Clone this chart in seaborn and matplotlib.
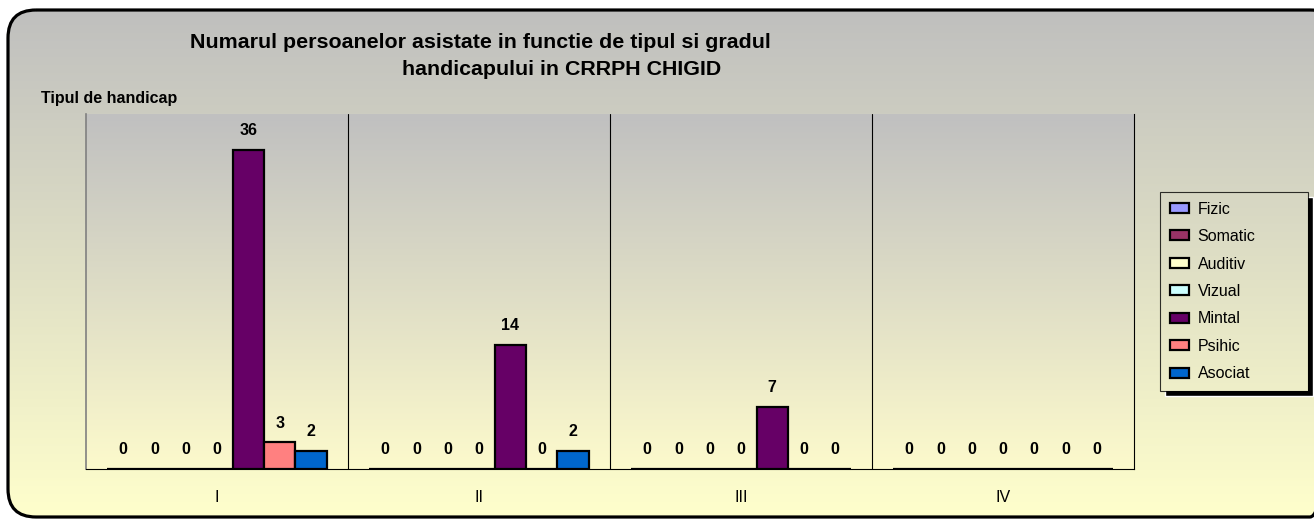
import matplotlib
matplotlib.use("Agg")
import matplotlib.pyplot as plt
import numpy as np
import pandas as pd
import seaborn as sns
from matplotlib.patches import FancyBboxPatch, Rectangle

# datele graficului
grade = ["I", "II", "III", "IV"]
tipuri = ["Fizic", "Somatic", "Auditiv", "Vizual", "Mintal", "Psihic", "Asociat"]
culori = ["#9999FF", "#993366", "#FFFFCC", "#CCFFFF", "#660066", "#FF8080", "#0066CC"]
valori_I = [0, 0, 0, 0, 36, 3, 2]
valori_II = [0, 0, 0, 0, 14, 0, 2]
valori_III = [0, 0, 0, 0, 7, 0, 0]
valori_IV = [0, 0, 0, 0, 0, 0, 0]

rows = []
for g, vals in zip(grade, [valori_I, valori_II, valori_III, valori_IV]):
    for t, v in zip(tipuri, vals):
        rows.append({"grad": g, "tip": t, "n": v})
df = pd.DataFrame(rows)

sns.set_style("white")
plt.rcParams['font.family'] = ['Liberation Sans', 'DejaVu Sans']
plt.rcParams['text.color'] = 'black'
plt.rcParams['xtick.color'] = 'black'

W, H = 1314, 519
fig = plt.figure(figsize=(W / 100, H / 100), dpi=100)
fig.patch.set_facecolor("white")

# fundal cu gradient si chenar rotunjit
bg = fig.add_axes([0, 0, 1, 1], zorder=-10)
bg.set_xlim(0, W)
bg.set_ylim(H, 0)
bg.axis("off")
top = np.array([0.745, 0.745, 0.745])
bot = np.array([1.0, 1.0, 0.80])
t = np.linspace(0, 1, 256)[:, None]
grad = (top[None, :] * (1 - t) + bot[None, :] * t)[:, None, :]
box = FancyBboxPatch((8, 10), 1330, 507, boxstyle="round,pad=0,rounding_size=28",
                     facecolor="none", edgecolor="black", linewidth=2.3, zorder=5)
bg.add_patch(box)
im = bg.imshow(grad, extent=[0, W, H, 0], aspect="auto", zorder=1)
im.set_clip_path(box)

# zona graficului
ax = fig.add_axes([86 / W, 1 - 469 / H, (1134 - 86) / W, (469 - 114) / H])
ax.set_facecolor("none")
ptop = np.array([0.753, 0.753, 0.753])
pbot = np.array([0.99, 0.98, 0.80])
pgrad = (ptop[None, :] * (1 - t) + pbot[None, :] * t)[:, None, :]
ax.imshow(pgrad, extent=[-0.5, 3.5, 0, 40], aspect="auto", zorder=0)

sns.barplot(data=df, x="grad", y="n", hue="tip", hue_order=tipuri, palette=culori,
            saturation=1, width=0.836, edgecolor="black", linewidth=1.6, ax=ax, zorder=3)

for c in ax.containers:
    ax.bar_label(c, fmt="%d", padding=8.5, fontsize=11.5, fontweight="bold")

ax.set_xlim(-0.5, 3.5)
ax.set_ylim(0, 40)
for x in [0.5, 1.5, 2.5]:
    ax.axvline(x, color="black", linewidth=0.8, zorder=1)
ax.spines["top"].set_visible(False)
ax.spines["right"].set_color("black")
ax.spines["right"].set_linewidth(0.8)
ax.spines["left"].set_color("#808080")
ax.spines["left"].set_linewidth(1.2)
ax.spines["bottom"].set_color("black")
ax.spines["bottom"].set_linewidth(0.8)
ax.set_yticks([])
ax.set_xticks(range(4))
ax.set_xticklabels(grade, fontsize=11.5)
ax.set_xticks([-0.5, 0.5, 1.5, 2.5, 3.5], minor=True)
ax.tick_params(axis="x", which="major", length=0, pad=15)
ax.tick_params(axis="x", which="minor", length=5, width=0.8, color="black", direction="out")
ax.set_xlabel("")
ax.set_ylabel("")

handles, labels = ax.get_legend_handles_labels()
ax.get_legend().remove()
leg = fig.legend(handles, labels, loc="upper left",
                 bbox_to_anchor=(1160 / W, 1 - 392 / H, 148 / W, 200 / H), mode="expand",
                 frameon=True, fancybox=False, shadow=False,
                 fontsize=11.5, handlelength=1.2, handleheight=0.6, labelspacing=0.78,
                 borderpad=0.6, handletextpad=0.55, borderaxespad=0)
leg.get_frame().set_edgecolor("black")
leg.get_frame().set_linewidth(0.8)
leg.get_frame().set_facecolor("none")
for h in leg.legend_handles:
    h.set_edgecolor("black")
    h.set_linewidth(1.6)

fig.text(480 / W, 1 - 48 / H, "Numarul persoanelor asistate in functie de tipul si gradul",
         ha="center", va="baseline", fontsize=15.4, fontweight="bold")
fig.text(562 / W, 1 - 75 / H, "handicapului in CRRPH CHIGID",
         ha="center", va="baseline", fontsize=15.4, fontweight="bold")
fig.text(41 / W, 1 - 103 / H, "Tipul de handicap", ha="left", va="baseline",
         fontsize=11.5, fontweight="bold")

# umbra si fundalul legendei
fig.canvas.draw()
bb = leg.get_frame().get_window_extent()
lx0, ly0, lw, lh = bb.x0, H - bb.y1, bb.width, bb.height
bg.add_patch(Rectangle((lx0 + 5, ly0 + 5), lw, lh, facecolor="black", zorder=2))
im2 = bg.imshow(grad, extent=[0, W, H, 0], aspect="auto", zorder=3)
im2.set_clip_path(Rectangle((lx0, ly0), lw, lh, transform=bg.transData))
bg.set_xlim(0, W)
bg.set_ylim(H, 0)

fig.savefig("out.png", dpi=100)
